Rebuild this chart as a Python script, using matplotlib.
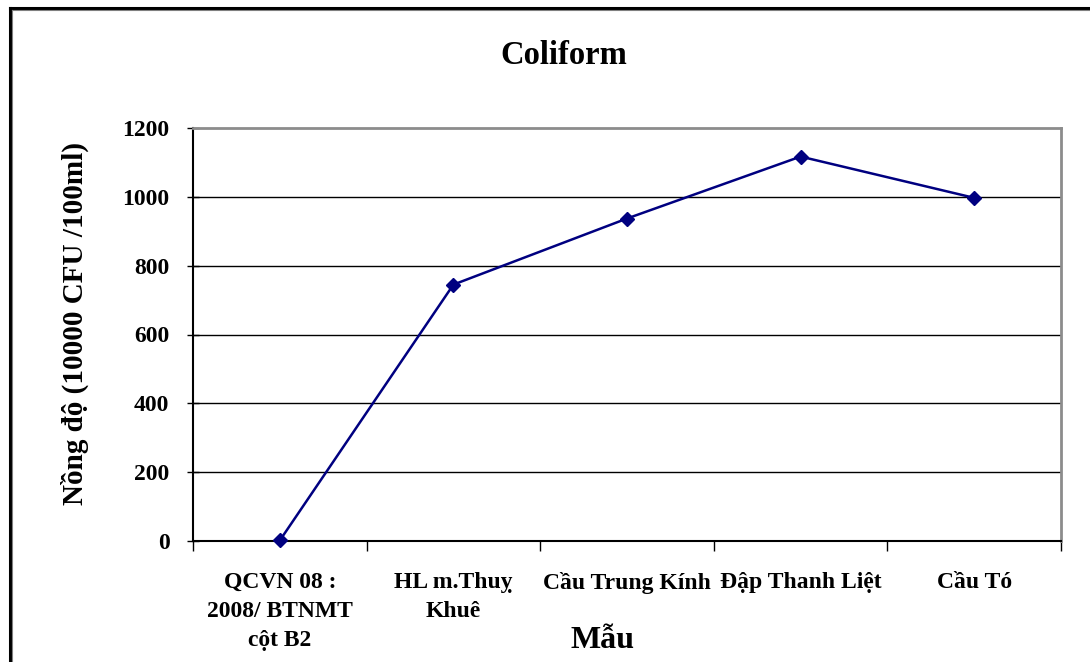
import numpy as np
import matplotlib
matplotlib.use("Agg")
import matplotlib.pyplot as plt
from matplotlib.lines import Line2D

# Sampling sites and Coliform concentration (x10000 CFU/100ml)
categories = [
    "QCVN 08 :\n2008/ BTNMT\ncột B2",
    "HL m.Thuỵ\nKhuê",
    "Cầu Trung Kính",
    "Đập Thanh Liệt",
    "Cầu Tó",
]
coliform = [1.5, 745, 937, 1117, 997]
y_ticks = [0, 200, 400, 600, 800, 1000, 1200]

W, H = 1090, 662
plt.rcParams["font.family"] = ["Liberation Serif", "DejaVu Serif"]
plt.rcParams["font.weight"] = "bold"

fig = plt.figure(figsize=(W / 100, H / 100), dpi=100)
fig.patch.set_facecolor("white")

# Plot area in pixel coordinates
left, right, top, bottom = 193, 1061, 128, 541
ax = fig.add_axes([left / W, 1 - bottom / H, (right - left) / W, (bottom - top) / H])

x = np.arange(len(categories))
ax.plot(x, coliform, color="#000080", linewidth=1.8, marker="D", markersize=7.5,
        markerfacecolor="#000080", markeredgecolor="#000080", zorder=3,
        clip_on=False)

ax.set_xlim(-0.5, len(categories) - 0.5)
ax.set_ylim(0, 1200)
ax.set_yticks(y_ticks)
ax.set_yticklabels([str(v) for v in y_ticks], fontsize=17, fontweight="bold")

# Horizontal gridlines
for v in y_ticks[1:-1]:
    ax.axhline(v, color="black", linewidth=1, zorder=1)

# Category labels centred, tick marks on category boundaries
ax.set_xticks(x)
ax.set_xticklabels(categories, fontsize=17, fontweight="bold", linespacing=1.5)
ax.tick_params(axis="x", which="major", length=0, pad=22)
ax.set_xticks(np.arange(-0.5, len(categories), 1), minor=True)
ax.tick_params(axis="x", which="minor", length=7, width=1, direction="out", color="black")
ax.tick_params(axis="y", which="major", length=8, width=1, direction="inout", pad=13)

for side in ("top", "right"):
    ax.spines[side].set_color("#8c8c8c")
    ax.spines[side].set_linewidth(2)
for side in ("left", "bottom"):
    ax.spines[side].set_color("black")
    ax.spines[side].set_linewidth(1.5)

fig.text(563.5 / W, 1 - 64 / H, "Coliform", fontsize=23.5, fontweight="bold",
         ha="center", va="baseline")
fig.text(75 / W, 1 - 324 / H, "Nồng độ (10000 CFU /100ml)", fontsize=21,
         fontweight="bold", rotation=90, ha="center", va="center")
fig.text(603 / W, 1 - 641 / H, "Mẫu", fontsize=23, fontweight="bold",
         ha="center", va="center")

# Chart frame on the left and top edges
fig.add_artist(Line2D([9.5 / W, 9.5 / W], [0, 1 - 8 / H], transform=fig.transFigure,
                      color="black", linewidth=2.2))
fig.add_artist(Line2D([9.5 / W, 1], [1 - 8 / H, 1 - 8 / H], transform=fig.transFigure,
                      color="black", linewidth=2.2))
fig.add_artist(Line2D([11.5 / W, 11.5 / W], [0, 1 - 10 / H], transform=fig.transFigure,
                      color="#808080", linewidth=0.8))
fig.add_artist(Line2D([11.5 / W, 1], [1 - 10 / H, 1 - 10 / H], transform=fig.transFigure,
                      color="#808080", linewidth=0.8))

fig.savefig("out.png", dpi=100, facecolor="white")
